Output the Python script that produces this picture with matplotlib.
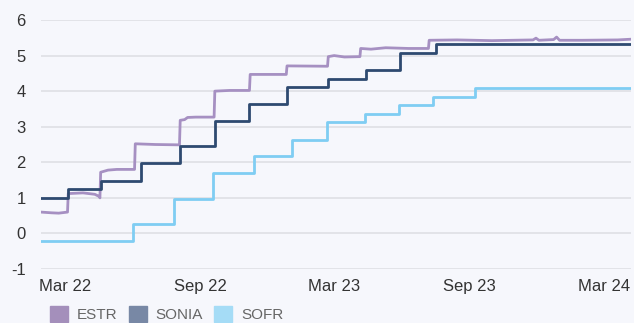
import matplotlib
matplotlib.use("Agg")
import matplotlib.pyplot as plt
import matplotlib.dates as mdates
from matplotlib.patches import Patch
import numpy as np

plt.rcParams['font.family'] = ['Liberation Sans', 'DejaVu Sans']

# ESTR (purple): daily-ish readings, jump dates appear twice
estr_dates = ['2022-01-27', '2022-02-10', '2022-02-20', '2022-03-04', '2022-03-05',
              '2022-03-25', '2022-04-10', '2022-04-16', '2022-04-17', '2022-04-18',
              '2022-04-28', '2022-05-10', '2022-06-03', '2022-06-04', '2022-07-01',
              '2022-08-03', '2022-08-04', '2022-08-10', '2022-08-14', '2022-08-25',
              '2022-09-19', '2022-09-20', '2022-10-10', '2022-11-06', '2022-11-07',
              '2022-12-26', '2022-12-27', '2023-02-20', '2023-02-21', '2023-03-01',
              '2023-03-15', '2023-04-05', '2023-04-06', '2023-04-20', '2023-05-10',
              '2023-06-10', '2023-07-07', '2023-07-08', '2023-08-15', '2023-10-01',
              '2023-11-26', '2023-11-30', '2023-12-04', '2023-12-24', '2023-12-28',
              '2024-01-01', '2024-02-01', '2024-03-20', '2024-04-07']
estr_vals = [0.60, 0.58, 0.57, 0.60, 1.12,
             1.14, 1.10, 1.04, 1.00, 1.72,
             1.78, 1.80, 1.80, 2.52, 2.50,
             2.49, 3.18, 3.20, 3.26, 3.27,
             3.27, 4.00, 4.02, 4.02, 4.47,
             4.47, 4.71, 4.70, 4.97, 5.00,
             4.96, 4.97, 5.20, 5.18, 5.22,
             5.20, 5.20, 5.43, 5.44, 5.42,
             5.44, 5.49, 5.43, 5.45, 5.52,
             5.43, 5.43, 5.44, 5.46]

# SONIA (navy), step values
sonia_dates = ['2022-01-27', '2022-03-05', '2022-04-18', '2022-06-12', '2022-08-04',
               '2022-09-20', '2022-11-06', '2022-12-27', '2023-02-21', '2023-04-13',
               '2023-05-29', '2023-07-17', '2024-04-07']
sonia_vals = [1.00, 1.25, 1.48, 1.97, 2.45,
              3.15, 3.63, 4.11, 4.34, 4.59,
              5.08, 5.32, 5.32]

# SOFR (light blue), step values
sofr_dates = ['2022-01-27', '2022-06-01', '2022-07-26', '2022-09-18', '2022-11-12',
              '2023-01-03', '2023-02-19', '2023-04-12', '2023-05-28', '2023-07-13',
              '2023-09-08', '2024-04-07']
sofr_vals = [-0.22, 0.26, 0.97, 1.70, 2.18,
             2.63, 3.13, 3.36, 3.61, 3.84,
             4.09, 4.09]

tick_dates = ['2022-03-01', '2022-09-01', '2023-03-01', '2023-09-01', '2024-03-01']
y_ticks = [-1, 0, 1, 2, 3, 4, 5, 6]

bg = '#f6f7fc'
fig = plt.figure(figsize=(6.34, 3.23), dpi=100, facecolor=bg)
ax = fig.add_axes([41 / 634, 1 - 269 / 323, 590 / 634, 249 / 323], facecolor=bg)

ax.plot(np.array(sofr_dates, dtype='datetime64[D]'), sofr_vals, drawstyle='steps-post',
        color='#7fcdf3', lw=2.0)
ax.plot(np.array(estr_dates, dtype='datetime64[D]'), estr_vals,
        color='#a690c2', lw=2.0)
ax.plot(np.array(sonia_dates, dtype='datetime64[D]'), sonia_vals, drawstyle='steps-post',
        color='#2e4a70', lw=2.0)

ax.set_xlim(np.datetime64('2022-01-27'), np.datetime64('2024-04-07'))
ax.set_ylim(-1, 6)
ax.set_yticks(y_ticks)
ax.set_yticklabels([str(v) for v in y_ticks])
ax.set_xticks(np.array(tick_dates, dtype='datetime64[D]'))
ax.xaxis.set_major_formatter(mdates.DateFormatter('%b %y'))

for s in ax.spines.values():
    s.set_visible(False)
ax.grid(axis='y', color='#dcdde3', lw=1.1)
ax.set_axisbelow(True)
ax.tick_params(length=0, labelsize=12, labelcolor='#333333')
ax.tick_params(axis='y', pad=11)
ax.tick_params(axis='x', pad=7)

handles = [Patch(color='#a48fbb', label='ESTR'),
           Patch(color='#7888a5', label='SONIA'),
           Patch(color='#a5dcf6', label='SOFR')]
fig.legend(handles=handles, loc='lower left', bbox_to_anchor=(49 / 634, 0 / 323),
           ncol=3, frameon=False, fontsize=11, labelcolor='#666666',
           handlelength=1.2, handleheight=1.2, handletextpad=0.55,
           columnspacing=0.75, borderpad=0.05, borderaxespad=0)

fig.savefig('out.png', dpi=100, facecolor=bg)
